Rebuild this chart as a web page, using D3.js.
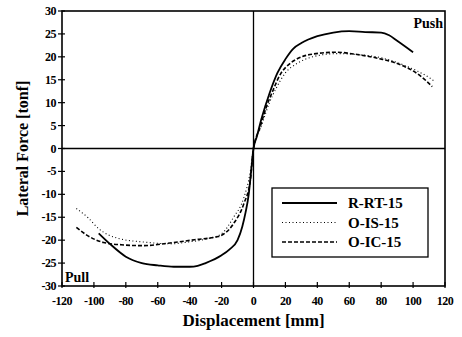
<!DOCTYPE html>
<html>
<head>
<meta charset="utf-8">
<script src="https://cdn.jsdelivr.net/npm/d3@7"></script>
<style>
  body { margin: 0; background: #fff; }
  text { font-family: "Liberation Serif", "DejaVu Serif", serif; font-weight: bold; fill: #000; }
</style>
</head>
<body>
<div id="plot"></div>
<script>
// Values (displacement mm, force tonf)
const rrtDisp  = [-97, -90, -80, -70, -60, -50, -40, -35, -30, -20, -15, -10, -7, -5, -3, -1.5, 0, 2, 5, 10, 15, 20, 25, 30, 40, 50, 60, 70, 80, 85, 90, 100];
const rrtForce = [-18.5, -20.8, -23.6, -25, -25.5, -25.8, -25.8, -25.6, -25, -23.3, -22, -20, -17, -14, -10, -5, 0, 2.5, 6.5, 12, 16.5, 19.5, 21.8, 23, 24.5, 25.3, 25.6, 25.4, 25.3, 24.7, 23.5, 21];

const oisDisp  = [-111, -104, -97, -85, -69, -52, -41, -29, -20, -12.5, -6, -2, 0, 5, 10, 14, 20, 27, 37, 52, 65, 80, 92, 102, 110, 114];
const oisForce = [-13.1, -15, -17.5, -19.6, -20.4, -20.8, -20.4, -19.7, -18.6, -15, -10.7, -5, 0, 5, 10, 13, 16.5, 18.5, 20, 20.7, 20.5, 19.8, 18.5, 17, 15.5, 14.5];

const oicDisp  = [-111, -104, -94, -83, -69, -54, -37, -22, -12.5, -6, -2, 0, 4, 8, 12, 17, 22, 27, 37, 52, 65, 79, 94, 104, 112];
const oicForce = [-17.2, -19, -20.5, -21, -21.2, -20.7, -19.9, -19.2, -16.4, -12, -7, 0, 4.5, 9, 12.5, 16.3, 18.3, 19.5, 20.6, 21, 20.5, 19.6, 18, 16, 13.5];

const seriesNames = ["R-RT-15", "O-IS-15", "O-IC-15"];
const xTicks = [-120, -100, -80, -60, -40, -20, 0, 20, 40, 60, 80, 100, 120];
const yTicks = [-30, -25, -20, -15, -10, -5, 0, 5, 10, 15, 20, 25, 30];

const width = 462, height = 337;
const plotLeft = 62, plotRight = 445, plotTop = 11, plotBottom = 286;

const svg = d3.select("#plot").append("svg")
    .attr("width", width)
    .attr("height", height);

const x = d3.scaleLinear().domain([-120, 120]).range([plotLeft, plotRight]);
const y = d3.scaleLinear().domain([-30, 30]).range([plotBottom, plotTop]);

// zero lines
svg.append("line")
    .attr("x1", plotLeft).attr("x2", plotRight)
    .attr("y1", y(0)).attr("y2", y(0))
    .attr("stroke", "#000").attr("stroke-width", 1.3);
svg.append("line")
    .attr("x1", x(0)).attr("x2", x(0))
    .attr("y1", plotTop).attr("y2", plotBottom)
    .attr("stroke", "#000").attr("stroke-width", 1.3);

// frame
svg.append("rect")
    .attr("x", plotLeft).attr("y", plotTop)
    .attr("width", plotRight - plotLeft).attr("height", plotBottom - plotTop)
    .attr("fill", "none")
    .attr("stroke", "#000")
    .attr("stroke-width", 1.6);

// y ticks and labels
yTicks.forEach(t => {
    svg.append("line")
        .attr("x1", plotLeft - 4).attr("x2", plotLeft + 3)
        .attr("y1", y(t)).attr("y2", y(t))
        .attr("stroke", "#000").attr("stroke-width", 1.2);
    svg.append("text")
        .attr("x", plotLeft - 6)
        .attr("y", y(t) + 4)
        .attr("text-anchor", "end")
        .style("font-size", "12px")
        .style("letter-spacing", "-0.5px")
        .text(t);
});

// x ticks and labels
xTicks.forEach(t => {
    svg.append("line")
        .attr("x1", x(t)).attr("x2", x(t))
        .attr("y1", plotBottom - 4).attr("y2", plotBottom + 2)
        .attr("stroke", "#000").attr("stroke-width", 1.2);
    svg.append("text")
        .attr("x", x(t))
        .attr("y", plotBottom + 19)
        .attr("text-anchor", "middle")
        .style("font-size", "12px")
        .style("letter-spacing", "-0.5px")
        .text(t);
});

// axis titles
svg.append("text")
    .attr("x", (plotLeft + plotRight) / 2)
    .attr("y", 326)
    .attr("text-anchor", "middle")
    .style("font-size", "17px")
    .text("Displacement [mm]");

svg.append("text")
    .attr("transform", `translate(28,${y(0)}) rotate(-90)`)
    .attr("text-anchor", "middle")
    .style("font-size", "16px")
    .text("Lateral Force [tonf]");

// Push / Pull labels
svg.append("text")
    .attr("x", plotRight - 2).attr("y", 28)
    .attr("text-anchor", "end")
    .style("font-size", "14px")
    .text("Push");
svg.append("text")
    .attr("x", plotLeft + 3).attr("y", plotBottom - 4)
    .style("font-size", "14px")
    .text("Pull");

// curves
const line = d3.line()
    .x(d => x(d[0]))
    .y(d => y(d[1]))
    .curve(d3.curveMonotoneX);

const styles = [
    { w: 1.8, dash: null },
    { w: 1.1, dash: "1,2.5" },
    { w: 1.6, dash: "4,2" }
];
const data = [
    d3.zip(rrtDisp, rrtForce),
    d3.zip(oisDisp, oisForce),
    d3.zip(oicDisp, oicForce)
];

data.forEach((pts, i) => {
    svg.append("path")
        .datum(pts)
        .attr("d", line)
        .attr("fill", "none")
        .attr("stroke", "#000")
        .attr("stroke-width", styles[i].w)
        .attr("stroke-dasharray", styles[i].dash);
});

// legend
const lg = svg.append("g");
lg.append("rect")
    .attr("x", 272).attr("y", 188)
    .attr("width", 156).attr("height", 69)
    .attr("fill", "#fff")
    .attr("stroke", "#000")
    .attr("stroke-width", 1.3);

seriesNames.forEach((name, i) => {
    const ly = 203 + i * 19.5;
    lg.append("line")
        .attr("x1", 282).attr("x2", 337)
        .attr("y1", ly).attr("y2", ly)
        .attr("stroke", "#000")
        .attr("stroke-width", styles[i].w)
        .attr("stroke-dasharray", styles[i].dash);
    lg.append("text")
        .attr("x", 348)
        .attr("y", ly + 5)
        .style("font-size", "15px")
        .text(name);
});
</script>
</body>
</html>
